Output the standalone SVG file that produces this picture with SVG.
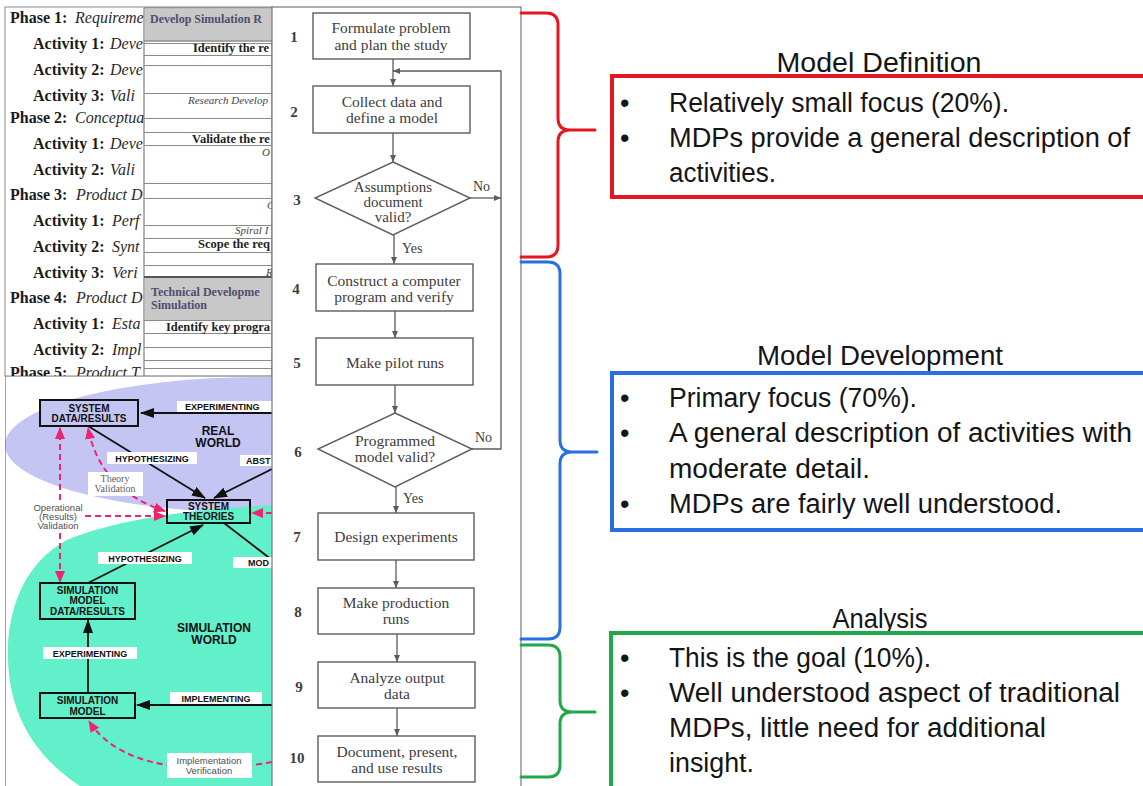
<svg xmlns="http://www.w3.org/2000/svg" width="1143" height="786" viewBox="0 0 1143 786">
<defs>
<style>
.tbl{font-family:"Liberation Serif","Times New Roman",serif;font-size:16px;fill:#1b1b1b}
.b{font-weight:bold}
.i{font-style:italic;fill:#2a2a2a}
.ovb{font-family:"Liberation Serif",serif;font-size:12.5px;font-weight:bold;fill:#1e1e1e}
.ovh{font-family:"Liberation Serif",serif;font-size:12px;font-weight:bold;fill:#4e4e6e}
.ovi{font-family:"Liberation Serif",serif;font-size:11px;font-style:italic;fill:#444}
.rl{stroke:#8a8a8a;stroke-width:1}
.bx{stroke:#111;stroke-width:2}
.bt{font-family:"Liberation Sans",Arial,sans-serif;font-size:10px;font-weight:bold;fill:#111;text-anchor:middle}
.lbl{fill:#fff}
.lt{font-family:"Liberation Sans",Arial,sans-serif;font-size:9px;font-weight:bold;fill:#111}
.wt{font-family:"Liberation Sans",Arial,sans-serif;font-size:12px;font-weight:bold;fill:#111;text-anchor:middle}
.ar{stroke:#111;stroke-width:1.8;fill:none}
.pk{stroke:#ee2470;stroke-width:2;stroke-dasharray:6 4;fill:none}
.nt{font-family:"Liberation Sans",Arial,sans-serif;font-size:9.5px;fill:#505050;text-anchor:middle}
.ns{font-family:"Liberation Serif",serif;font-size:10px;fill:#606060;text-anchor:middle}
.fs{stroke:#5c5c5c;stroke-width:1.4;fill:#fff}
.fl{stroke:#5c5c5c;stroke-width:1.3;fill:none}
.ft{font-family:"Liberation Serif","Times New Roman",serif;font-size:15.5px;fill:#3d3d3d;text-anchor:middle}
.fd{font-family:"Liberation Serif","Times New Roman",serif;font-size:15px;fill:#3d3d3d;text-anchor:middle}
.fy{font-family:"Liberation Serif",serif;font-size:14px;fill:#3d3d3d}
.fn{font-family:"Liberation Serif",serif;font-size:15px;font-weight:bold;fill:#3d3d3d;text-anchor:middle}
.hd{font-family:"Liberation Sans",Arial,sans-serif;font-size:27px;fill:#151515;text-anchor:middle}
.tx{font-family:"Liberation Sans",Arial,sans-serif;font-size:27px;fill:#151515}
.brace{fill:none;stroke-width:3;stroke-linecap:round;stroke-linejoin:round}
.card{fill:#fff;stroke-width:4}
</style>
<clipPath id="cpB"><rect x="5" y="376" width="267" height="410"/></clipPath>
<marker id="mk" viewBox="0 0 14 10" refX="13" refY="5" markerWidth="14" markerHeight="10" markerUnits="userSpaceOnUse" orient="auto"><path d="M0,0 L14,5 L0,10 z" fill="#111"/></marker>
<marker id="mp" viewBox="0 0 12 10" refX="11" refY="5" markerWidth="12" markerHeight="10" markerUnits="userSpaceOnUse" orient="auto-start-reverse"><path d="M0,0 L12,5 L0,10 z" fill="#ee2470"/></marker>
<marker id="mf" viewBox="0 0 7 6" refX="7" refY="3" markerWidth="7" markerHeight="6" markerUnits="userSpaceOnUse" orient="auto"><path d="M0,0 L7,3 L0,6 z" fill="#5c5c5c"/></marker>
</defs>

<rect x="0" y="0" width="1143" height="786" fill="#fff"/>

<!-- Top-left table -->
<g id="phase-table">
<rect x="5" y="7" width="267" height="369" fill="#fff" stroke="#888"/>
<text class="tbl" x="10" y="23"><tspan class="b">Phase 1:</tspan><tspan class="i" x="75">Requireme</tspan></text>
<text class="tbl" x="33" y="49"><tspan class="b">Activity 1:</tspan><tspan class="i" x="110">Deve</tspan></text>
<text class="tbl" x="33" y="75"><tspan class="b">Activity 2:</tspan><tspan class="i" x="110">Deve</tspan></text>
<text class="tbl" x="33" y="101"><tspan class="b">Activity 3:</tspan><tspan class="i" x="110">Vali</tspan></text>
<text class="tbl" x="10" y="123"><tspan class="b">Phase 2:</tspan><tspan class="i" x="75">Conceptua</tspan></text>
<text class="tbl" x="33" y="149"><tspan class="b">Activity 1:</tspan><tspan class="i" x="110">Deve</tspan></text>
<text class="tbl" x="33" y="175"><tspan class="b">Activity 2:</tspan><tspan class="i" x="110">Vali</tspan></text>
<text class="tbl" x="10" y="200"><tspan class="b">Phase 3:</tspan><tspan class="i" x="76">Product D</tspan></text>
<text class="tbl" x="33" y="226"><tspan class="b">Activity 1:</tspan><tspan class="i" x="112">Perf</tspan></text>
<text class="tbl" x="33" y="252"><tspan class="b">Activity 2:</tspan><tspan class="i" x="112">Synt</tspan></text>
<text class="tbl" x="33" y="278"><tspan class="b">Activity 3:</tspan><tspan class="i" x="112">Veri</tspan></text>
<text class="tbl" x="10" y="303"><tspan class="b">Phase 4:</tspan><tspan class="i" x="76">Product D</tspan></text>
<text class="tbl" x="33" y="329"><tspan class="b">Activity 1:</tspan><tspan class="i" x="112">Esta</tspan></text>
<text class="tbl" x="33" y="355"><tspan class="b">Activity 2:</tspan><tspan class="i" x="112">Impl</tspan></text>
<text class="tbl" x="10" y="378"><tspan class="b">Phase 5:</tspan><tspan class="i" x="76">Product T</tspan></text>
</g>

<g id="overlay-table">
<rect x="144" y="8" width="128" height="368" fill="#fff" stroke="#666"/>
<rect x="145" y="8.5" width="127" height="32" fill="#c8c8c8"/>
<rect x="145" y="277" width="127" height="43" fill="#c8c8c8"/>
<g class="rl">
<line x1="144" y1="41" x2="272" y2="41" stroke-width="1.6"/>
<line x1="144" y1="43.5" x2="272" y2="43.5"/>
<line x1="144" y1="55.5" x2="272" y2="55.5"/>
<line x1="144" y1="65.5" x2="272" y2="65.5"/>
<line x1="144" y1="93.5" x2="272" y2="93.5"/>
<line x1="144" y1="118.5" x2="272" y2="118.5"/>
<line x1="144" y1="132.5" x2="272" y2="132.5"/>
<line x1="144" y1="145.5" x2="272" y2="145.5"/>
<line x1="144" y1="183.5" x2="272" y2="183.5"/>
<line x1="144" y1="198.5" x2="272" y2="198.5"/>
<line x1="144" y1="225.5" x2="272" y2="225.5"/>
<line x1="144" y1="238.5" x2="272" y2="238.5"/>
<line x1="144" y1="252.5" x2="272" y2="252.5"/>
<line x1="144" y1="265.5" x2="272" y2="265.5"/>
<line x1="144" y1="277" x2="272" y2="277" stroke-width="1.8" stroke="#555"/>
<line x1="144" y1="320.5" x2="272" y2="320.5"/>
<line x1="144" y1="333.5" x2="272" y2="333.5"/>
<line x1="144" y1="347.5" x2="272" y2="347.5"/>
<line x1="144" y1="360.5" x2="272" y2="360.5"/>
<line x1="144" y1="368.5" x2="272" y2="368.5"/>
</g>
<text class="ovh" x="150" y="23">Develop Simulation R</text>
<text class="ovb" x="193" y="52">Identify the re</text>
<text class="ovi" x="188" y="104">Research Develop</text>
<text class="ovb" x="192" y="143">Validate the re</text>
<text class="ovi" x="262" y="156">O</text>
<text class="ovi" x="267" y="209">C</text>
<text class="ovi" x="235" y="234">Spiral I</text>
<text class="ovb" x="198" y="248">Scope the req</text>
<text class="ovi" x="266" y="276">R</text>
<text class="ovh" x="151" y="296">Technical Developme</text>
<text class="ovh" x="151" y="309">Simulation</text>
<text class="ovb" x="166" y="331">Identify key progra</text>
</g>

<!-- Bottom-left: real world / simulation world -->
<g id="sim-world-diagram" clip-path="url(#cpB)">
<rect x="5" y="376" width="267" height="410" fill="#fff"/>
<ellipse id="real-world-area" cx="262" cy="445" rx="257" ry="68" fill="#c5c5f3"/>
<path id="simulation-world-area" d="M280 505 C200 508 120 518 67 540 C25 562 6 610 8 660 C10 720 40 765 95 795 L280 795 Z" fill="#62f0ca"/>
<text class="wt" x="218" y="435">REAL</text>
<text class="wt" x="218" y="447">WORLD</text>
<text class="wt" x="214" y="632">SIMULATION</text>
<text class="wt" x="214" y="644">WORLD</text>

<g id="sw-connectors">
<line class="ar" x1="272" y1="413" x2="141" y2="413" marker-end="url(#mk)"/>
<line class="ar" x1="88" y1="426" x2="205" y2="498" marker-end="url(#mk)"/>
<line class="ar" x1="272" y1="469" x2="214" y2="498" marker-end="url(#mk)"/>
<line class="ar" x1="224" y1="523" x2="272" y2="560"/>
<line class="ar" x1="88" y1="583" x2="203" y2="525" marker-end="url(#mk)"/>
<line class="ar" x1="88" y1="692" x2="88" y2="620" marker-end="url(#mk)"/>
<line class="ar" x1="272" y1="705" x2="137" y2="705" marker-end="url(#mk)"/>
<line class="pk" x1="60" y1="500" x2="60" y2="428" marker-end="url(#mp)"/>
<line class="pk" x1="60" y1="533" x2="60" y2="582" marker-end="url(#mp)"/>
<line class="pk" x1="85" y1="516" x2="165" y2="516" marker-end="url(#mp)"/>
<path class="pk" d="M165 511 Q100 490 88 428" marker-start="url(#mp)" marker-end="url(#mp)"/>
<line class="pk" x1="272" y1="513" x2="252" y2="513" marker-end="url(#mp)"/>
<path class="pk" d="M272 762 C200 775 120 770 89 721" marker-end="url(#mp)"/>
</g>

<g id="lbl-experimenting-top"><rect class="lbl" x="177" y="401" width="97" height="11"/><text class="lt" x="185" y="410">EXPERIMENTING</text></g>
<g id="lbl-hypothesizing-top"><rect class="lbl" x="107" y="452" width="90" height="12"/><text class="lt" x="152" y="462" text-anchor="middle">HYPOTHESIZING</text></g>
<g id="lbl-abst"><rect class="lbl" x="240" y="455" width="36" height="11"/><text class="lt" x="246" y="464">ABST</text></g>
<g id="lbl-theory-validation"><rect class="lbl" x="88" y="472" width="55" height="24"/><text class="ns" x="115" y="482">Theory</text><text class="ns" x="115" y="492">Validation</text></g>
<g id="lbl-operational"><text class="nt" x="58" y="511">Operational</text><text class="nt" x="58" y="520">(Results)</text><text class="nt" x="58" y="529">Validation</text></g>
<g id="lbl-hypothesizing-bottom"><rect class="lbl" x="98" y="552" width="94" height="12"/><text class="lt" x="145" y="562" text-anchor="middle">HYPOTHESIZING</text></g>
<g id="lbl-mod"><rect class="lbl" x="233" y="557" width="42" height="11"/><text class="lt" x="248" y="566">MOD</text></g>
<g id="lbl-experimenting-bottom"><rect class="lbl" x="43" y="647" width="94" height="12"/><text class="lt" x="90" y="657" text-anchor="middle">EXPERIMENTING</text></g>
<g id="lbl-implementing"><rect class="lbl" x="170" y="692" width="92" height="12"/><text class="lt" x="216" y="702" text-anchor="middle">IMPLEMENTING</text></g>
<g id="lbl-impl-verification"><rect class="lbl" x="167" y="753" width="85" height="25"/><text class="nt" x="209" y="764">Implementation</text><text class="nt" x="209" y="774">Verification</text></g>

<g id="node-system-data"><rect class="bx" x="40" y="400" width="98" height="26" fill="#c5c5f3"/><text class="bt" x="89" y="412">SYSTEM</text><text class="bt" x="89" y="422">DATA/RESULTS</text></g>
<g id="node-system-theories"><rect class="bx" x="167" y="500" width="83" height="23" fill="none"/><text class="bt" x="208.5" y="510">SYSTEM</text><text class="bt" x="208.5" y="520">THEORIES</text></g>
<g id="node-sim-model-data"><rect class="bx" x="40" y="583" width="95" height="36" fill="#62f0ca"/><text class="bt" x="87.5" y="594">SIMULATION</text><text class="bt" x="87.5" y="604">MODEL</text><text class="bt" x="87.5" y="615">DATA/RESULTS</text></g>
<g id="node-sim-model"><rect class="bx" x="40" y="693" width="95" height="25" fill="#62f0ca"/><text class="bt" x="87.5" y="704">SIMULATION</text><text class="bt" x="87.5" y="715">MODEL</text></g>
<path d="M5 376 H272 M5 376 V786" stroke="#666" stroke-width="1.2" fill="none"/>
</g>

<!-- Flowchart -->
<g id="flowchart-panel">
<rect x="272" y="7" width="249" height="785" fill="#fff" stroke="#777" stroke-width="1.2"/>
</g>
<g id="fc-connectors">
<path class="fl" d="M393 59 V86" marker-end="url(#mf)"/>
<path class="fl" d="M393 133 V162" marker-end="url(#mf)"/>
<path class="fl" d="M394 235 V264" marker-end="url(#mf)"/>
<path class="fl" d="M395 311 V338" marker-end="url(#mf)"/>
<path class="fl" d="M395 385 V413" marker-end="url(#mf)"/>
<path class="fl" d="M396 487 V513" marker-end="url(#mf)"/>
<path class="fl" d="M396 560 V588" marker-end="url(#mf)"/>
<path class="fl" d="M397 634 V662" marker-end="url(#mf)"/>
<path class="fl" d="M397 708 V736" marker-end="url(#mf)"/>
<path class="fl" d="M470 198 H501" marker-end="url(#mf)"/>
<path class="fl" d="M472 449 H501 V71 H393" marker-end="url(#mf)"/>
<text class="fy" x="473" y="191">No</text>
<text class="fy" x="402" y="253">Yes</text>
<text class="fy" x="475" y="442">No</text>
<text class="fy" x="403" y="503">Yes</text>
</g>
<g id="fc-step1"><rect class="fs" x="313" y="13" width="157" height="46"/><text class="ft" x="391" y="33">Formulate problem</text><text class="ft" x="391" y="50">and plan the study</text><text class="fn" x="294" y="42">1</text></g>
<g id="fc-step2"><rect class="fs" x="313" y="86" width="157" height="47"/><text class="ft" x="392" y="107">Collect data and</text><text class="ft" x="392" y="123">define a model</text><text class="fn" x="294" y="117">2</text></g>
<g id="fc-step3"><polygon class="fs" points="393,162 470,198 393,235 315,198"/><text class="fd" x="393" y="192">Assumptions</text><text class="fd" x="393" y="207">document</text><text class="fd" x="393" y="222">valid?</text><text class="fn" x="297" y="205">3</text></g>
<g id="fc-step4"><rect class="fs" x="316" y="264" width="157" height="47"/><text class="ft" x="394" y="286">Construct a computer</text><text class="ft" x="394" y="302">program and verify</text><text class="fn" x="296" y="294">4</text></g>
<g id="fc-step5"><rect class="fs" x="316" y="338" width="157" height="47"/><text class="ft" x="395" y="368">Make pilot runs</text><text class="fn" x="297" y="368">5</text></g>
<g id="fc-step6"><polygon class="fs" points="395,413 472,449 395,487 318,449"/><text class="ft" x="395" y="446">Programmed</text><text class="ft" x="395" y="462">model valid?</text><text class="fn" x="298" y="457">6</text></g>
<g id="fc-step7"><rect class="fs" x="318" y="513" width="156" height="47"/><text class="ft" x="396" y="542">Design experiments</text><text class="fn" x="297" y="542">7</text></g>
<g id="fc-step8"><rect class="fs" x="318" y="588" width="156" height="46"/><text class="ft" x="396" y="608">Make production</text><text class="ft" x="396" y="624">runs</text><text class="fn" x="298" y="617">8</text></g>
<g id="fc-step9"><rect class="fs" x="318" y="662" width="157" height="46"/><text class="ft" x="397" y="683">Analyze output</text><text class="ft" x="397" y="699">data</text><text class="fn" x="299" y="692">9</text></g>
<g id="fc-step10"><rect class="fs" x="318" y="736" width="157" height="46"/><text class="ft" x="397" y="757">Document, present,</text><text class="ft" x="397" y="773">and use results</text><text class="fn" x="297" y="763">10</text></g>

<!-- Right side -->
<g id="braces">
<path class="brace" stroke="#e5161f" d="M521 13 H546 Q558 13 558 25 V118 Q558 130 570 130 H595 M570 130 Q558 130 558 142 V245 Q558 257 546 257 H521"/>
<path class="brace" stroke="#2a6fe2" d="M521 262 H548 Q560 262 560 274 V440 Q560 452 572 452 H597 M572 452 Q560 452 560 464 V627 Q560 639 548 639 H521"/>
<path class="brace" stroke="#20a84a" d="M521 645 H548 Q560 645 560 657 V700 Q560 712 572 712 H595 M572 712 Q560 712 560 724 V765 Q560 777 548 777 H521"/>
</g>

<g id="model-definition">
<text class="hd" x="879" y="72" textLength="205" lengthAdjust="spacingAndGlyphs">Model Definition</text>
<rect class="card" x="612" y="76" width="540" height="121" stroke="#e5161f"/>
<text class="tx" x="620" y="112">•</text>
<text class="tx" x="669" y="112" textLength="340" lengthAdjust="spacingAndGlyphs">Relatively small focus (20%).</text>
<text class="tx" x="620" y="147">•</text>
<text class="tx" x="669" y="147" textLength="461" lengthAdjust="spacingAndGlyphs">MDPs provide a general description of</text>
<text class="tx" x="669" y="182" textLength="107" lengthAdjust="spacingAndGlyphs">activities.</text>
</g>

<g id="model-development">
<text class="hd" x="880" y="365" textLength="246" lengthAdjust="spacingAndGlyphs">Model Development</text>
<rect class="card" x="612" y="373" width="540" height="157" stroke="#2a6fe2"/>
<text class="tx" x="620" y="407">•</text>
<text class="tx" x="669" y="407" textLength="248" lengthAdjust="spacingAndGlyphs">Primary focus (70%).</text>
<text class="tx" x="620" y="442">•</text>
<text class="tx" x="669" y="442" textLength="463" lengthAdjust="spacingAndGlyphs">A general description of activities with</text>
<text class="tx" x="669" y="478" textLength="201" lengthAdjust="spacingAndGlyphs">moderate detail.</text>
<text class="tx" x="620" y="513">•</text>
<text class="tx" x="669" y="513" textLength="393" lengthAdjust="spacingAndGlyphs">MDPs are fairly well understood.</text>
</g>

<g id="analysis">
<text class="hd" x="880" y="628" textLength="95" lengthAdjust="spacingAndGlyphs">Analysis</text>
<rect class="card" x="611" y="633" width="540" height="170" stroke="#20a84a"/>
<text class="tx" x="620" y="667">•</text>
<text class="tx" x="669" y="667" textLength="262" lengthAdjust="spacingAndGlyphs">This is the goal (10%).</text>
<text class="tx" x="620" y="702">•</text>
<text class="tx" x="669" y="702" textLength="451" lengthAdjust="spacingAndGlyphs">Well understood aspect of traditional</text>
<text class="tx" x="669" y="737" textLength="377" lengthAdjust="spacingAndGlyphs">MDPs, little need for additional</text>
<text class="tx" x="669" y="772" textLength="85" lengthAdjust="spacingAndGlyphs">insight.</text>
</g>
</svg>
